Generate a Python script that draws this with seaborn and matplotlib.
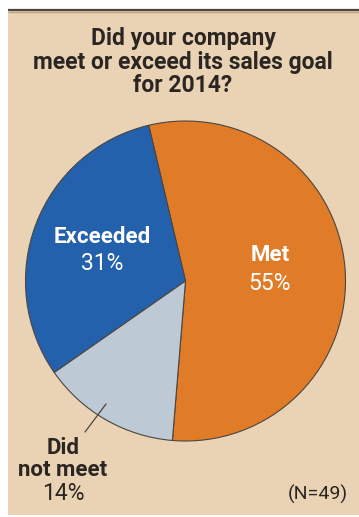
import matplotlib
matplotlib.use("Agg")
import matplotlib.pyplot as plt
import seaborn as sns
from matplotlib.patches import Rectangle

# Survey answers
categories = ["Met", "Exceeded", "Did not\nmeet"]
shares = [55, 31, 14]
label_names = ["Met", "Exceeded", "Did\nnot meet"]
title_text = "Did your company\nmeet or exceed its sales goal\nfor 2014?"
sample_note = "(N=49)"

sns.set_theme(style="white")
plt.rcParams["font.family"] = ["Roboto", "DejaVu Sans"]

palette = sns.color_palette(["#E07C28", "#2361AD", "#BDC9D4"])
BG = "#E9D3B4"
INK = "#2B2622"

W, H = 359, 517
fig = plt.figure(figsize=(W / 100, H / 100), dpi=100, facecolor="white")
ax = fig.add_axes([0, 0, 1, 1])


def fy(y):
    return H - y


# panel background and top rule
ax.add_patch(Rectangle((8, fy(515)), W - 8, 515 - 9, facecolor=BG, edgecolor="none", zorder=0))
ax.plot([8, W], [fy(9.8), fy(9.8)], color="#4E453D", lw=1.6, solid_capstyle="butt", zorder=1)
ax.plot([8, W], [fy(11.6), fy(11.6)], color="#B8A386", lw=1.0, solid_capstyle="butt", zorder=1)

# pie
cx, cy, r = 185.5, fy(281), 160
ax.pie(shares, colors=palette, startangle=-94.7, counterclock=True,
       center=(cx, cy), radius=r, frame=True,
       wedgeprops=dict(edgecolor="#4A4541", linewidth=0.8))

ax.set_xlim(0, W)
ax.set_ylim(0, H)
ax.set_aspect("auto")
ax.axis("off")

# title
ax.text(183, fy(62), title_text, ha="center", va="center", fontsize=16.5,
        fontweight="bold", color=INK, linespacing=1.02)

# slice labels
ax.text(270, fy(255), label_names[0], ha="center", va="center", fontsize=16,
        fontweight="bold", color="white")
ax.text(270, fy(283), f"{shares[0]}%", ha="center", va="center", fontsize=16.5,
        color="white")
ax.text(102, fy(237), label_names[1], ha="center", va="center", fontsize=16,
        fontweight="bold", color="white")
ax.text(102, fy(264), f"{shares[1]}%", ha="center", va="center", fontsize=16.5,
        color="white")

ax.text(63, fy(459), label_names[2], ha="center", va="center", fontsize=16,
        fontweight="bold", color=INK, linespacing=0.95)
ax.text(63, fy(493), f"{shares[2]}%", ha="center", va="center", fontsize=16.5,
        color=INK)
ax.plot([85, 106], [fy(432), fy(404)], color="#4A4541", lw=0.9)

ax.text(318, fy(494), sample_note, ha="center", va="center", fontsize=14,
        color=INK)

fig.savefig("out.png", dpi=100, facecolor="white")
